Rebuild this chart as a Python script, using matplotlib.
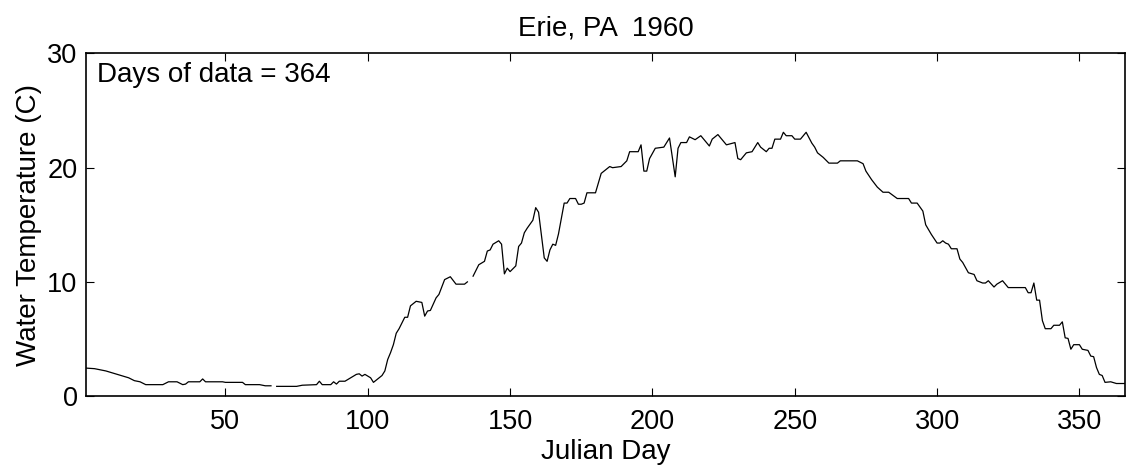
import numpy as np
import matplotlib
matplotlib.use('Agg')
import matplotlib.pyplot as plt

plt.rcParams['font.family'] = ['Liberation Sans', 'DejaVu Sans']

# water temperature, (julian day, deg C); nan = missing day
days = [1, 4, 6, 8, 10, 12, 14, 16, 18, 20, 22, 28, 30, 33, 35, 36, 37, 41, 42, 43,
        49, 50, 56, 57, 62, 64, 66, 67, 68, 75, 77, 82, 83, 84, 87, 88, 89, 90, 92, 94,
        96, 97, 98, 99, 100, 101, 102, 104, 105, 106, 107, 108, 109, 110, 111, 113, 114, 115, 117, 119,
        120, 121, 122, 124, 125, 127, 129, 131, 134, 135, 136, 137, 139, 141, 142, 143, 144, 146, 147, 148,
        149, 150, 152, 153, 154, 155, 156, 158, 159, 160, 162, 163, 164, 165, 166, 167, 169, 170, 171, 173,
        174, 175, 176, 177, 180, 182, 183, 185, 186, 189, 191, 192, 195, 196, 197, 198, 199, 201, 204, 206,
        208, 209, 210, 212, 213, 215, 217, 220, 221, 223, 226, 229, 230, 231, 233, 235, 237, 238, 239, 240,
        241, 242, 243, 245, 246, 247, 249, 250, 252, 254, 256, 257, 258, 260, 262, 265, 266, 272, 274, 275,
        277, 279, 281, 283, 286, 290, 291, 293, 295, 296, 298, 300, 301, 302, 303, 304, 305, 307, 308, 309,
        311, 313, 314, 316, 317, 318, 320, 321, 323, 325, 331, 332, 333, 334, 335, 336, 337, 338, 340, 341,
        343, 344, 345, 346, 347, 348, 350, 351, 353, 354, 355, 356, 357, 358, 359, 361, 363, 366]
temps = [2.45, 2.4, 2.3, 2.2, 2.05, 1.9, 1.75, 1.6, 1.35, 1.25, 1.0, 1.0, 1.25, 1.25, 1.0, 1.05, 1.25, 1.25, 1.5, 1.25,
         1.25, 1.2, 1.2, 1.0, 1.0, 0.9, 0.9, np.nan, 0.85, 0.85, 0.95, 1.0, 1.3, 1.0, 1.0, 1.25, 1.05, 1.3, 1.3, 1.6,
         1.9, 1.95, 1.75, 1.9, 1.75, 1.6, 1.2, 1.6, 1.8, 2.2, 3.2, 3.8, 4.5, 5.5, 5.9, 6.9, 6.9, 7.9, 8.3, 8.2,
         7.0, 7.45, 7.5, 8.6, 8.9, 10.2, 10.45, 9.8, 9.8, 10.0, np.nan, 10.5, 11.5, 11.8, 12.7, 12.8, 13.3, 13.6, 13.3, 10.7,
         11.2, 10.9, 11.4, 13.1, 13.4, 14.3, 14.7, 15.4, 16.5, 16.1, 12.1, 11.8, 12.8, 13.3, 13.2, 14.2, 16.9, 16.9, 17.3, 17.3,
         16.8, 16.8, 16.9, 17.8, 17.8, 19.5, 19.7, 20.1, 20.0, 20.1, 20.6, 21.4, 21.4, 22.0, 19.7, 19.7, 20.8, 21.7, 21.8, 22.6,
         19.2, 21.7, 22.2, 22.2, 22.7, 22.45, 22.8, 21.9, 22.5, 22.9, 22.0, 22.2, 20.8, 20.7, 21.3, 21.4, 22.2, 21.8, 21.6, 21.4,
         21.7, 21.7, 22.5, 22.5, 23.1, 22.8, 22.8, 22.5, 22.5, 23.1, 22.15, 21.8, 21.3, 20.9, 20.4, 20.4, 20.6, 20.6, 20.35, 19.7,
         18.95, 18.3, 17.85, 17.85, 17.3, 17.3, 16.9, 16.9, 16.2, 15.0, 14.15, 13.4, 13.4, 13.6, 13.4, 13.3, 12.9, 12.9, 12.0, 11.7,
         10.8, 10.65, 10.1, 9.9, 9.9, 10.1, 9.55, 9.8, 10.1, 9.5, 9.5, 9.05, 9.05, 9.9, 8.4, 8.4, 6.6, 5.9, 5.9, 6.2,
         6.2, 6.5, 5.1, 5.05, 4.1, 4.5, 4.5, 4.1, 4.0, 3.5, 3.45, 2.5, 1.9, 1.8, 1.2, 1.25, 1.1, 1.1]
xticks = [50, 100, 150, 200, 250, 300, 350]
yticks = [0, 10, 20, 30]
n_days = 364

fig = plt.figure(figsize=(11.28, 4.68), dpi=100)
ax = fig.add_axes([0.0762, 0.1537, 0.9211, 0.7320])
ax.plot(days, temps, color='k', lw=0.9)

ax.set_xlim(1, 366)
ax.set_ylim(0, 30)
ax.set_xticks(xticks)
ax.set_yticks(yticks)
ax.tick_params(direction='in', length=6, width=0.8, top=True, right=True,
               labelsize=19.5)
ax.tick_params(axis='x', pad=9)
ax.tick_params(axis='y', pad=6)
for s in ax.spines.values():
    s.set_linewidth(1.2)

ax.set_xlabel('Julian Day', fontsize=20, labelpad=3)
ax.set_ylabel('Water Temperature (C)', fontsize=20, labelpad=4)
ax.set_title('Erie, PA  1960', fontsize=20, pad=13)
ax.text(0.011, 0.975, 'Days of data = %d' % n_days, transform=ax.transAxes,
        fontsize=20, va='top', ha='left')

fig.savefig('out.png', dpi=100)
